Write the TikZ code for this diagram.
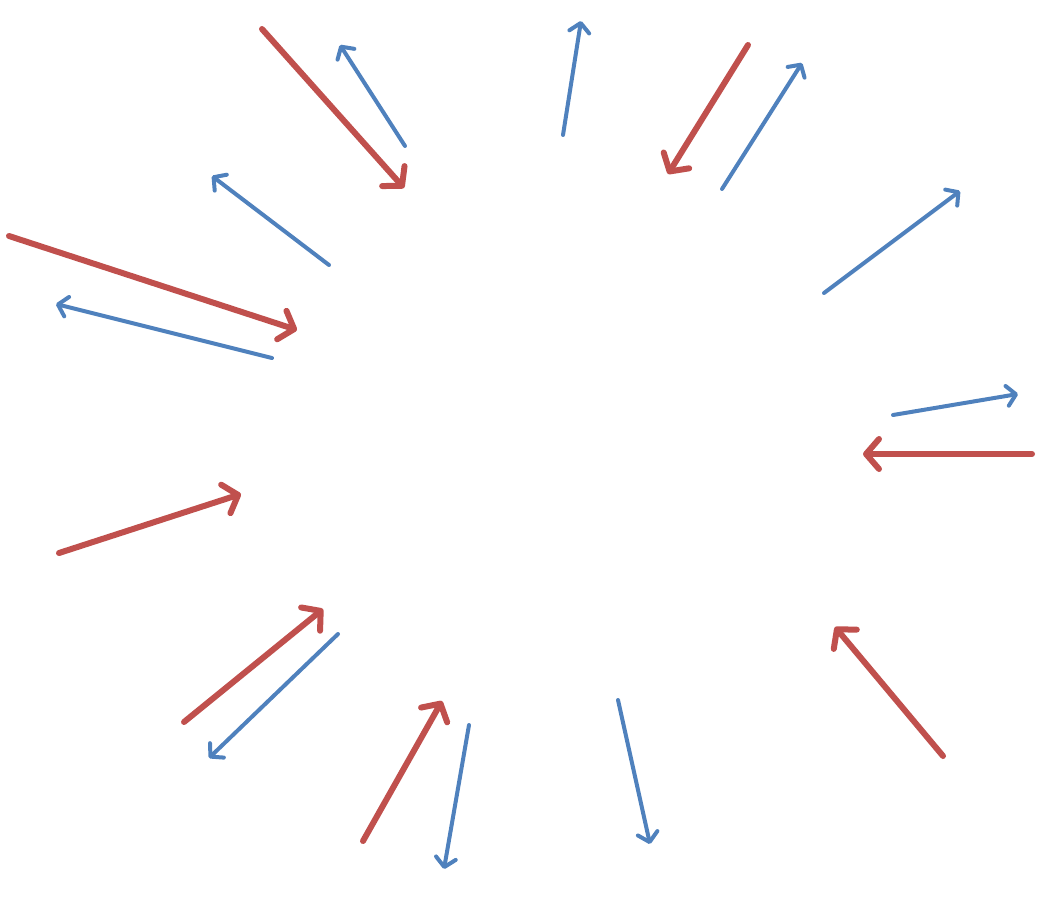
\documentclass[tikz,border=0pt]{standalone}
\usetikzlibrary{arrows.meta}
\definecolor{redarr}{HTML}{C0504D}
\definecolor{bluearr}{HTML}{4F81BD}
\tikzset{
  inarrow/.style={draw=redarr, line width=6pt, line cap=round,
    -{Straight Barb[length=13pt, width=30pt, line cap=round, line join=round]}},
  outarrow/.style={draw=bluearr, line width=4pt, line cap=round,
    -{Straight Barb[length=9pt, width=20pt, line cap=round, line join=round]}}
}
\begin{document}
\begin{tikzpicture}[x=1pt,y=-1pt]
\useasboundingbox (0,0) rectangle (1043,897);
% red inward arrows
\coordinate (r1s) at (262,29);  \coordinate (r1e) at (404,188);
\coordinate (r2s) at (748,45);  \coordinate (r2e) at (668,174);
\coordinate (r3s) at (9,236);   \coordinate (r3e) at (297,330);
\coordinate (r4s) at (1032,454); \coordinate (r4e) at (863,454);
\coordinate (r5s) at (59,553);  \coordinate (r5e) at (241,494);
\coordinate (r6s) at (184,722); \coordinate (r6e) at (323,609);
\coordinate (r7s) at (363,841); \coordinate (r7e) at (442,701);
\coordinate (r8s) at (943,756); \coordinate (r8e) at (835,627);
% blue outward arrows
\coordinate (b1s) at (405,146); \coordinate (b1e) at (340,45);
\coordinate (b2s) at (563,135); \coordinate (b2e) at (581,21);
\coordinate (b3s) at (722,189); \coordinate (b3e) at (802,63);
\coordinate (b4s) at (329,265); \coordinate (b4e) at (212,176);
\coordinate (b5s) at (272,358); \coordinate (b5e) at (56,304);
\coordinate (b6s) at (824,293); \coordinate (b6e) at (960,191);
\coordinate (b7s) at (893,415); \coordinate (b7e) at (1018,394);
\coordinate (b8s) at (338,634); \coordinate (b8e) at (209,758);
\coordinate (b9s) at (469,725); \coordinate (b9e) at (444,869);
\coordinate (b10s) at (618,700); \coordinate (b10e) at (650,844);
\foreach \i in {1,...,8} \draw[inarrow] (r\i s) -- (r\i e);
\foreach \i in {1,...,10} \draw[outarrow] (b\i s) -- (b\i e);
\end{tikzpicture}
\end{document}
